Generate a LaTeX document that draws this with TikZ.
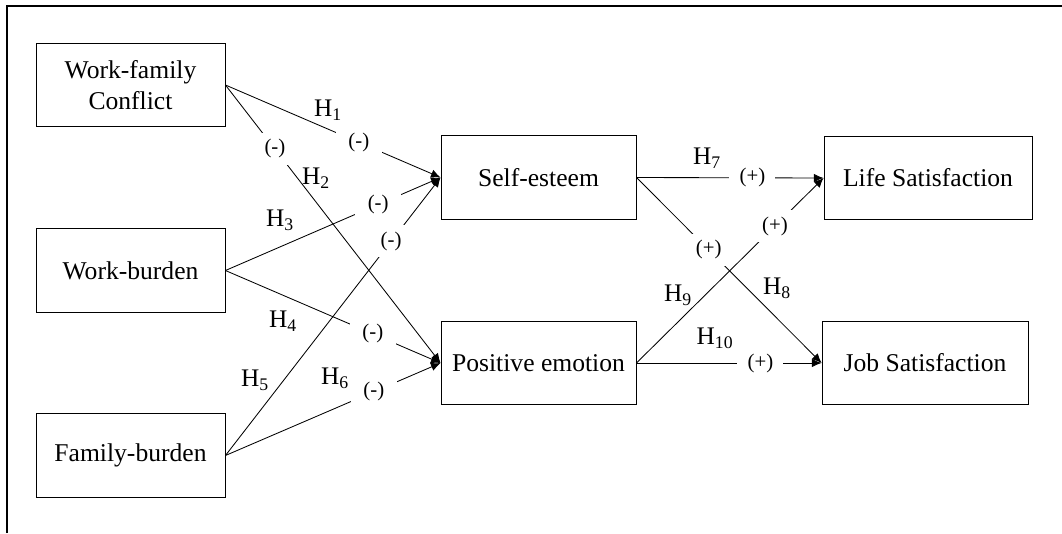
\documentclass[tikz,border=0pt]{standalone}
\usepackage{fontspec}
\setmainfont{Liberation Serif}
\usetikzlibrary{arrows.meta}

\begin{document}
\begin{tikzpicture}[x=0.025cm,y=-0.025cm,
  font=\fontsize{18.2}{21.5}\selectfont,
  box/.style={draw,line width=0.6pt,minimum height=2.08cm,align=center,inner sep=2pt},
  sgn/.style={fill=white,inner sep=0pt,minimum width=1.15cm,minimum height=0.8cm,
              font=\fontsize{14.8}{17}\selectfont},
  hyp/.style={inner sep=1pt,font=\fontsize{18}{21}\selectfont},
  ar/.style={-{Latex[length=2.4mm,width=2.1mm]},line width=0.6pt}]

\useasboundingbox (0,0) rectangle (1062,533);
\draw[line width=1pt] (7,533) -- (7,6) -- (1062,6);

% ---- antecedents (left) ----
\node[box,minimum width=4.725cm] (wfc) at (130.5,85)    {Work-family\\Conflict};
\node[box,minimum width=4.725cm] (wb)  at (130.5,270.5) {Work-burden};
\node[box,minimum width=4.725cm] (fb)  at (130.5,455.5) {Family-burden};

% ---- mediators (middle) ----
\node[box,minimum width=4.875cm] (se) at (538.5,177.5) {Self-esteem};
\node[box,minimum width=4.875cm] (pe) at (538.5,363)   {Positive emotion};

% ---- outcomes (right) ----
\node[box,minimum width=5.2cm]  (ls) at (928,178) {Life Satisfaction};
\node[box,minimum width=5.15cm] (js) at (925,363) {Job Satisfaction};

% ---- paths H1 to H6: negative ----
\draw[ar] (wfc.east) -- node[sgn,pos=0.62]  (s1) {(-)} (se.west);
\draw[ar] (wfc.east) -- node[sgn,pos=0.23]  (s2) {(-)} (pe.west);
\draw[ar] (wb.east)  -- node[sgn,pos=0.71]  (s3) {(-)} (se.west);
\draw[ar] (wb.east)  -- node[sgn,pos=0.685] (s4) {(-)} (pe.west);
\draw[ar] (fb.east)  -- node[sgn,pos=0.77]  (s5) {(-)} (se.west);
\draw[ar] (fb.east)  -- node[sgn,pos=0.69]  (s6) {(-)} (pe.west);

% ---- paths H7 to H10: positive ----
\draw[ar] (se.east) -- node[sgn,pos=0.62] (s7)  {(+)} (ls.west);
\draw[ar] (se.east) -- node[sgn,pos=0.39] (s8)  {(+)} (js.west);
\draw[ar] (pe.east) -- node[sgn,pos=0.74] (s9)  {(+)} (ls.west);
\draw[ar] (pe.east) -- node[sgn,pos=0.67] (s10) {(+)} (js.west);

% ---- hypothesis labels ----
\node[hyp] (h1)  at (328,110) {H\textsubscript{1}};
\node[hyp] (h2)  at (316,178) {H\textsubscript{2}};
\node[hyp] (h3)  at (280,220) {H\textsubscript{3}};
\node[hyp] (h4)  at (283,321) {H\textsubscript{4}};
\node[hyp] (h5)  at (255,380) {H\textsubscript{5}};
\node[hyp] (h6)  at (335,378) {H\textsubscript{6}};
\node[hyp] (h7)  at (707,158) {H\textsubscript{7}};
\node[hyp] (h8)  at (777,288) {H\textsubscript{8}};
\node[hyp] (h9)  at (678,295) {H\textsubscript{9}};
\node[hyp] (h10) at (715,338) {H\textsubscript{10}};
\end{tikzpicture}
\end{document}
